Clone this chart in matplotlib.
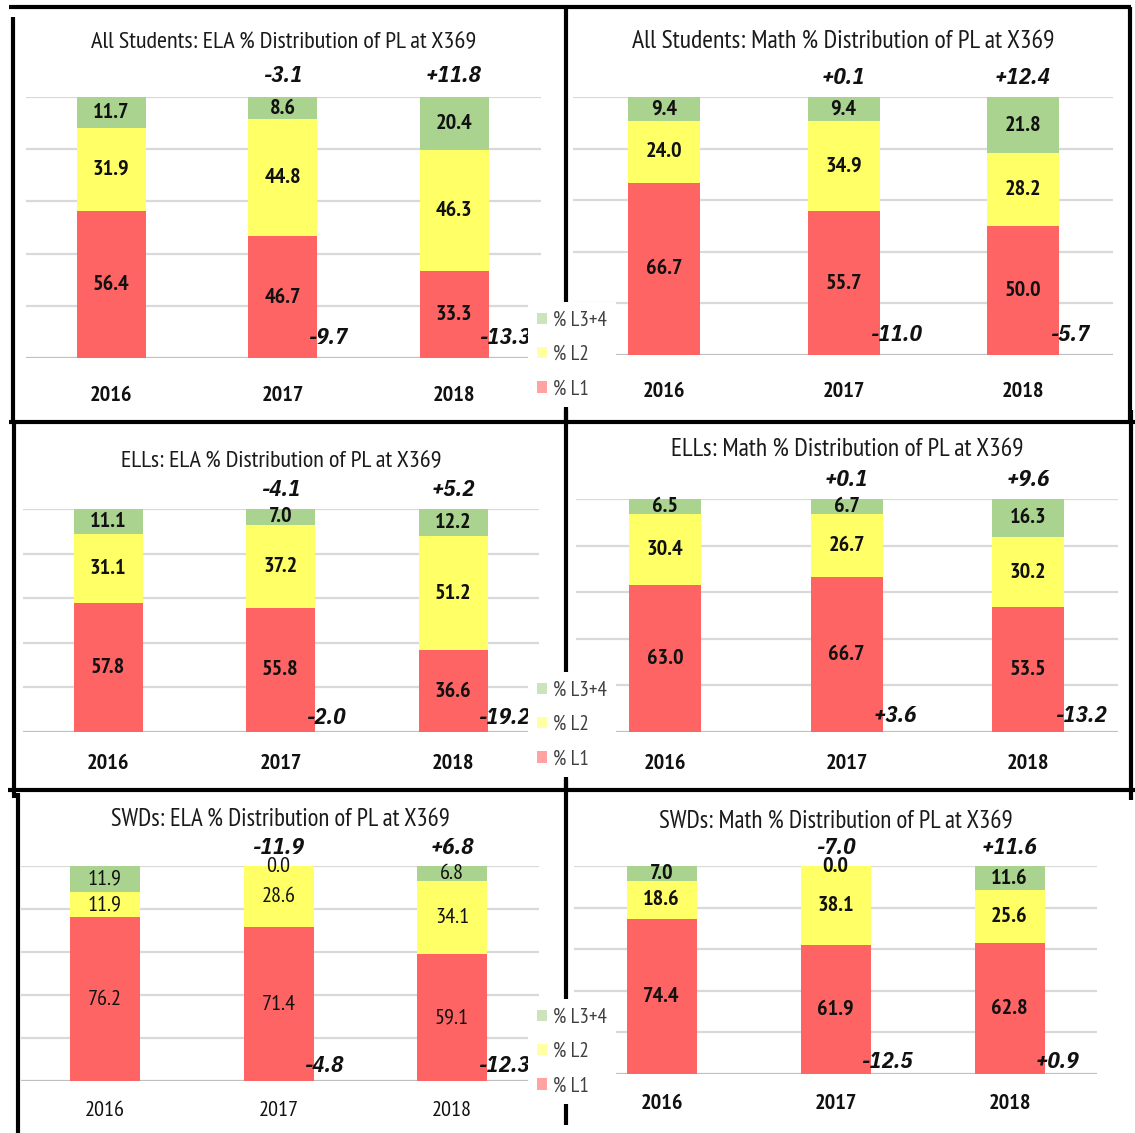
import numpy as np
import matplotlib
matplotlib.use('Agg')
import matplotlib.pyplot as plt
from matplotlib.patches import Patch
from matplotlib.lines import Line2D

# ---------------- data ----------------
years = ['2016', '2017', '2018']
legend_labels = ['% L3+4', '% L2', '% L1']

title_ela_all = 'All Students: ELA % Distribution of PL at X369'
ela_all_l1 = [56.4, 46.7, 33.3]
ela_all_l2 = [31.9, 44.8, 46.3]
ela_all_l34 = [11.7, 8.6, 20.4]
ela_all_top = ['-3.1', '+11.8']
ela_all_bottom = ['-9.7', '-13.3']

title_math_all = 'All Students: Math % Distribution of PL at X369'
math_all_l1 = [66.7, 55.7, 50.0]
math_all_l2 = [24.0, 34.9, 28.2]
math_all_l34 = [9.4, 9.4, 21.8]
math_all_top = ['+0.1', '+12.4']
math_all_bottom = ['-11.0', '-5.7']

title_ela_ell = 'ELLs: ELA % Distribution of PL at X369'
ela_ell_l1 = [57.8, 55.8, 36.6]
ela_ell_l2 = [31.1, 37.2, 51.2]
ela_ell_l34 = [11.1, 7.0, 12.2]
ela_ell_top = ['-4.1', '+5.2']
ela_ell_bottom = ['-2.0', '-19.2']

title_math_ell = 'ELLs: Math % Distribution of PL at X369'
math_ell_l1 = [63.0, 66.7, 53.5]
math_ell_l2 = [30.4, 26.7, 30.2]
math_ell_l34 = [6.5, 6.7, 16.3]
math_ell_top = ['+0.1', '+9.6']
math_ell_bottom = ['+3.6', '-13.2']

title_ela_swd = 'SWDs: ELA % Distribution of PL at X369'
ela_swd_l1 = [76.2, 71.4, 59.1]
ela_swd_l2 = [11.9, 28.6, 34.1]
ela_swd_l34 = [11.9, 0.0, 6.8]
ela_swd_top = ['-11.9', '+6.8']
ela_swd_bottom = ['-4.8', '-12.3']

title_math_swd = 'SWDs: Math % Distribution of PL at X369'
math_swd_l1 = [74.4, 61.9, 62.8]
math_swd_l2 = [18.6, 38.1, 25.6]
math_swd_l34 = [7.0, 0.0, 11.6]
math_swd_top = ['-7.0', '+11.6']
math_swd_bottom = ['-12.5', '+0.9']

panels = [
    (title_ela_all, ela_all_l1, ela_all_l2, ela_all_l34, ela_all_top, ela_all_bottom),
    (title_math_all, math_all_l1, math_all_l2, math_all_l34, math_all_top, math_all_bottom),
    (title_ela_ell, ela_ell_l1, ela_ell_l2, ela_ell_l34, ela_ell_top, ela_ell_bottom),
    (title_math_ell, math_ell_l1, math_ell_l2, math_ell_l34, math_ell_top, math_ell_bottom),
    (title_ela_swd, ela_swd_l1, ela_swd_l2, ela_swd_l34, ela_swd_top, ela_swd_bottom),
    (title_math_swd, math_swd_l1, math_swd_l2, math_swd_l34, math_swd_top, math_swd_bottom),
]

# ---------------- layout (pixels) ----------------
W, H = 1135, 1133
layout = [
    dict(gl=26, gr=541, yt=97, yb=358, c0=111, s=171.5, w=69, tt=54, tw=386, yo=37, to=22, bo=21, wt='bold'),
    dict(gl=573, gr=1113, yt=97, yb=355, c0=664, s=179.5, w=72, tt=55, tw=423, yo=36, to=20, bo=20, wt='bold'),
    dict(gl=23, gr=539, yt=509, yb=732, c0=108, s=172.5, w=69, tt=47, tw=322, yo=31, to=19, bo=15, wt='bold'),
    dict(gl=576, gr=1118, yt=499, yb=732, c0=665, s=181.5, w=72, tt=49, tw=353, yo=31, to=19, bo=17, wt='bold'),
    dict(gl=21, gr=539, yt=866, yb=1081, c0=105, s=173.5, w=70, tt=46, tw=339, yo=29, to=19, bo=15, wt='normal'),
    dict(gl=574, gr=1097, yt=866, yb=1074, c0=661.5, s=174, w=70, tt=44, tw=355, yo=29, to=19, bo=13, wt='bold'),
]

RED = '#FF6464'
YELLOW = '#FFFF66'
GREEN = '#A9D38E'
PT = 0.72  # px -> points at dpi 100
NARROW = ['PT Sans Narrow', 'DejaVu Sans']
ITAL = ['IBM Plex Sans Condensed', 'DejaVu Sans']

plt.rcParams['font.family'] = NARROW

fig = plt.figure(figsize=(W / 100, H / 100), dpi=100)
fig.patch.set_facecolor('white')

titles = []
for (title, l1, l2, l34, top_ch, bot_ch), L in zip(panels, layout):
    ax = fig.add_axes([L['gl'] / W, 1 - L['yb'] / H, (L['gr'] - L['gl']) / W, (L['yb'] - L['yt']) / H])
    x = np.arange(len(years))
    l1 = np.array(l1); l2 = np.array(l2); l34 = np.array(l34)
    bw = L['w'] / L['s']
    ax.set_xlim((L['gl'] - L['c0']) / L['s'], (L['gr'] - L['c0']) / L['s'])
    ax.set_ylim(0, 100)
    c1 = ax.bar(x, l1, bw, color=RED, zorder=2)
    c2 = ax.bar(x, l2, bw, bottom=l1, color=YELLOW, zorder=2)
    c3 = ax.bar(x, l34, bw, bottom=l1 + l2, color=GREEN, zorder=2)
    for c in (c1, c2, c3):
        ax.bar_label(c, fmt='%.1f', label_type='center', fontsize=16,
                     fontweight=L['wt'], color='#111111', zorder=3)
    ax.set_yticks([0, 20, 40, 60, 80, 100])
    ax.yaxis.grid(True, color='#d9d9d9', lw=1.6)
    ax.set_axisbelow(True)
    ax.axhline(0, color='#bfbfbf', lw=2.2, zorder=1.5)
    for sp in ax.spines.values():
        sp.set_visible(False)
    ax.tick_params(axis='y', left=False, labelleft=False)
    ax.set_xticks(x, years)
    ax.tick_params(axis='x', length=0, pad=(L['yo'] - 9) * PT, labelsize=16)
    for lab in ax.get_xticklabels():
        lab.set_fontweight(L['wt'])
        lab.set_color('#111111')
    for xi, t in zip(x[1:], top_ch):
        ax.annotate(t, xy=(xi, 100), xytext=(0, L['to'] * PT), textcoords='offset points',
                    ha='center', va='center', fontsize=16.5, fontweight='bold', family=ITAL,
                    fontstyle='italic', color='#111111', annotation_clip=False)
    for xi, t in zip(x[1:], bot_ch):
        ax.annotate(t, xy=(xi + bw / 2, 0), xytext=(-9 * PT, L['bo'] * PT), textcoords='offset points',
                    ha='left', va='center', fontsize=16.5, fontweight='bold', family=ITAL,
                    fontstyle='italic', color='#111111', annotation_clip=False, zorder=4)
    tt = ax.annotate(title, xy=(0.5, 1), xycoords='axes fraction', xytext=(0, L['tt'] * PT),
                     textcoords='offset points', ha='center', va='center', fontsize=16,
                     color='#1a1a1a', annotation_clip=False)
    titles.append((tt, L['tw']))

# fit title widths
fig.canvas.draw()
r = fig.canvas.get_renderer()
for t, target in titles:
    bb = t.get_window_extent(r)
    t.set_fontsize(t.get_fontsize() * target / bb.width)

# black collage borders
def seg(x0, y0, x1, y1):
    fig.add_artist(Line2D([x0 / W, x1 / W], [1 - y0 / H, 1 - y1 / H], transform=fig.transFigure,
                          color='black', lw=3, solid_capstyle='butt', zorder=1))

seg(9, 7, 1131, 7)
seg(13, 17, 13, 421)
seg(566, 7, 566, 421)
seg(1130, 7, 1130, 421)
seg(9, 422, 1135, 422)
seg(14, 424, 14, 798)
seg(566, 410, 566, 790)
seg(1131, 410, 1131, 800)
seg(8, 790, 1135, 790)
seg(18, 793, 18, 1133)
seg(566, 780, 566, 1125)

# legends
for top in (302, 672, 999):
    handles = [Patch(facecolor=GREEN, edgecolor='none', alpha=0.6),
               Patch(facecolor=YELLOW, edgecolor='none', alpha=0.6),
               Patch(facecolor=RED, edgecolor='none', alpha=0.6)]
    leg = fig.legend(handles, legend_labels, loc='upper left', bbox_to_anchor=(528 / W, 1 - top / H),
                     bbox_transform=fig.transFigure, borderaxespad=0, frameon=True, facecolor='white',
                     edgecolor='none', framealpha=1, fancybox=False, fontsize=15,
                     handlelength=0.47, handleheight=0.47, handletextpad=0.33, labelspacing=0.74,
                     borderpad=0.42, labelcolor='#404040')
    leg.set_zorder(10)

fig.savefig('out.png', dpi=100, facecolor='white')
